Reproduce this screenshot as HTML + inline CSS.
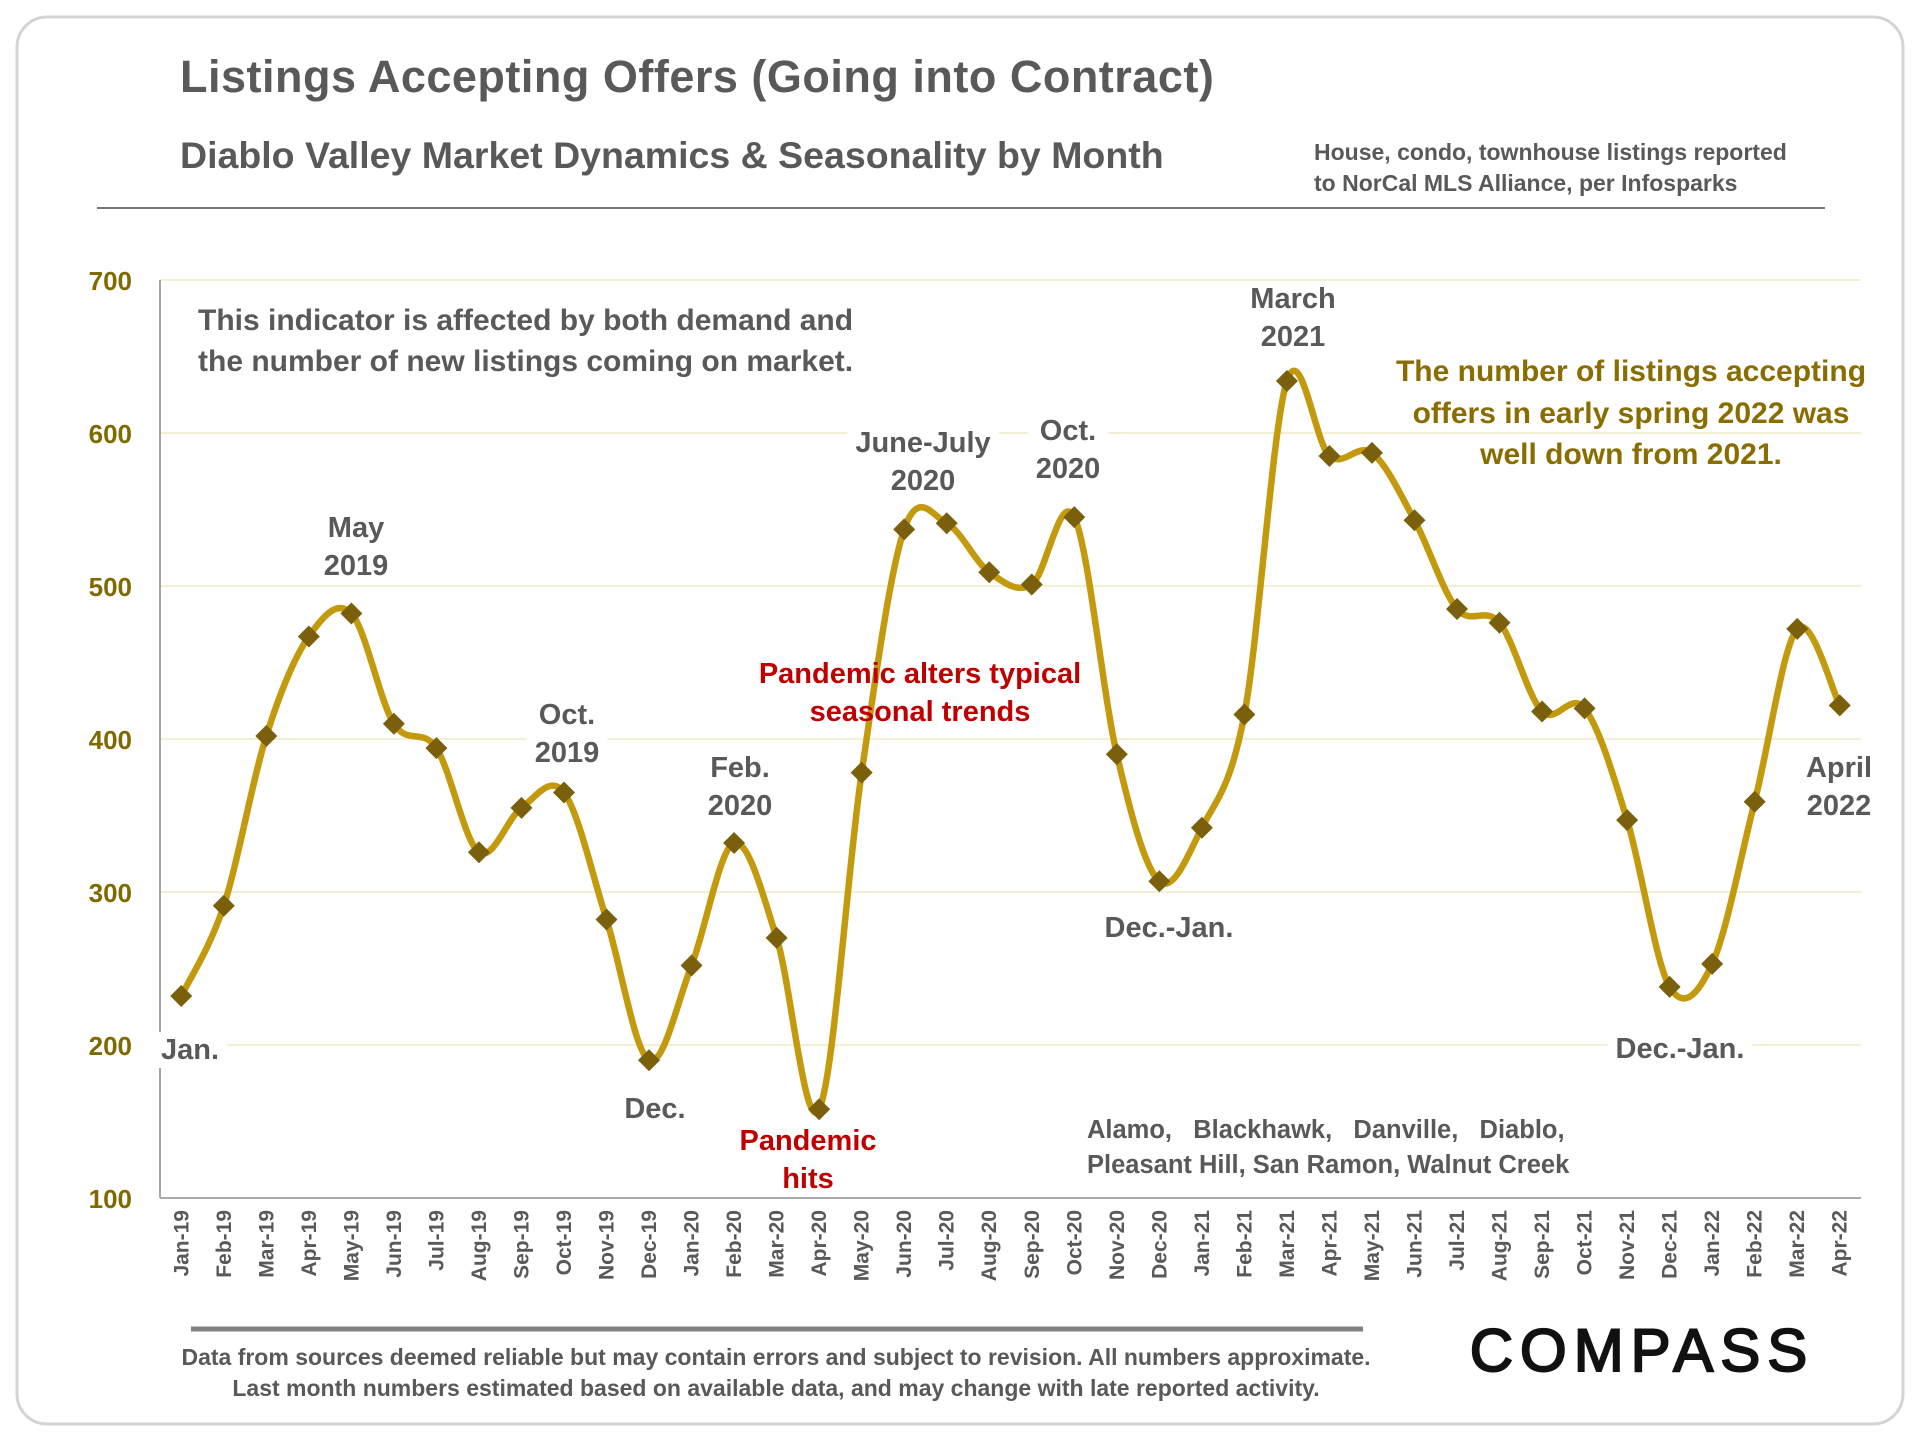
<!DOCTYPE html>
<html><head><meta charset="utf-8"><style>
html,body{margin:0;padding:0;background:#fff}
svg{display:block;font-family:"Liberation Sans",sans-serif}
</style></head><body>
<svg width="1920" height="1440" viewBox="0 0 1920 1440">
<rect x="17" y="17" width="1886" height="1407" rx="30" fill="#fff" stroke="#d4d4d4" stroke-width="3"/>
<text x="180" y="92" font-size="45" font-weight="bold" fill="#595959" letter-spacing="0.5">Listings Accepting Offers (Going into Contract)</text>
<text x="180" y="168" font-size="37.5" font-weight="bold" fill="#595959">Diablo Valley Market Dynamics &amp; Seasonality by Month</text>
<text x="1314" y="160" font-size="23" font-weight="bold" fill="#595959"><tspan x="1314">House, condo, townhouse listings reported</tspan><tspan x="1314" dy="31">to NorCal MLS Alliance, per Infosparks</tspan></text>
<line x1="97" y1="208" x2="1825" y2="208" stroke="#777" stroke-width="2"/>
<g id="grid"></g>
<g id="axes"></g>
<g id="annot" font-weight="bold" font-size="28" text-anchor="middle">
</g>
<g id="series"></g>
<g id="labels" font-weight="bold" font-size="28" text-anchor="middle"></g>
<line x1="191" y1="1329" x2="1363" y2="1329" stroke="#808080" stroke-width="5"/>
<text x="776" y="1365" font-size="23" font-weight="bold" fill="#595959" text-anchor="middle"><tspan x="776">Data from sources deemed reliable but may contain errors and subject to revision. All numbers approximate.</tspan><tspan x="776" dy="31">Last month numbers estimated based on available data, and may change with late reported activity.</tspan></text>
<text x="1642" y="1371" font-size="60" fill="#111" stroke="#111" stroke-width="2" text-anchor="middle" letter-spacing="7">COMPASS</text>
</svg>
<script>
const months=["Jan-19","Feb-19","Mar-19","Apr-19","May-19","Jun-19","Jul-19","Aug-19","Sep-19","Oct-19","Nov-19","Dec-19","Jan-20","Feb-20","Mar-20","Apr-20","May-20","Jun-20","Jul-20","Aug-20","Sep-20","Oct-20","Nov-20","Dec-20","Jan-21","Feb-21","Mar-21","Apr-21","May-21","Jun-21","Jul-21","Aug-21","Sep-21","Oct-21","Nov-21","Dec-21","Jan-22","Feb-22","Mar-22","Apr-22"];
const values=[232,291,402,467,482,410,394,326,355,365,282,190,252,332,270,158,378,537,541,509,501,545,390,307,342,416,634,585,587,543,485,476,418,420,347,238,253,359,472,422];
const yTicks=[100,200,300,400,500,600,700];
const NS="http://www.w3.org/2000/svg";
const L=160,R=1861,T=280,B=1198,yMin=100,yMax=700;
const xs=i=>L+(i+0.5)*(R-L)/months.length;
const ys=v=>B-(v-yMin)/(yMax-yMin)*(B-T);
function mk(tag,attrs,parent,txt){const e=document.createElementNS(NS,tag);for(const k in attrs)e.setAttribute(k,attrs[k]);if(txt!==undefined)e.textContent=txt;document.getElementById(parent).appendChild(e);return e;}
yTicks.forEach(t=>{
 if(t>yMin){const g=mk('line',{x1:L,x2:R,y1:ys(t),y2:ys(t),stroke:'#f3efd2','stroke-width':2},'grid');
 
 }
 const lb=mk('text',{x:132,y:ys(t)+10,'font-size':26,'font-weight':'bold',fill:'#7f6a00','text-anchor':'end'},'axes',String(t));
 
 
});
const ya=mk('line',{x1:L,x2:L,y1:T,y2:B,stroke:'#888','stroke-width':1.5},'axes');


const xa=mk('line',{x1:L,x2:R,y1:B,y2:B,stroke:'#aaa','stroke-width':2},'axes');


months.forEach((m,i)=>{
 const x=xs(i),y=1210;
 const t=mk('text',{x:x,y:y,'font-size':21,'font-weight':'bold',fill:'#595959','text-anchor':'end',transform:`rotate(-90 ${x} ${y})`,dy:7},'axes',m);
 
 
});
const P=values.map((v,i)=>[xs(i),ys(v)]);
let d=`M${P[0][0]},${P[0][1]}`;
for(let i=0;i<P.length-1;i++){
 const p0=P[Math.max(0,i-1)],p1=P[i],p2=P[i+1],p3=P[Math.min(P.length-1,i+2)];
 const k=1/6;
 d+=` C${p1[0]+(p2[0]-p0[0])*k},${p1[1]+(p2[1]-p0[1])*k} ${p2[0]-(p3[0]-p1[0])*k},${p2[1]-(p3[1]-p1[1])*k} ${p2[0]},${p2[1]}`;
}
const line=mk('path',{d:d,fill:'none',stroke:'#c39a0e','stroke-width':6.5,'stroke-linejoin':'round'},'series');


P.forEach((p,i)=>{
 const s=11;
 const m=mk('polygon',{points:`${p[0]},${p[1]-s} ${p[0]+s},${p[1]} ${p[0]},${p[1]+s} ${p[0]-s},${p[1]}`,fill:'#7a600c'},'series');
 
 
});
const annots=[
 ["indicator-note",[["This indicator is affected by both demand and",320],["the number of new listings coming on market.",361]],198,"#595959","start",false,30],
 ["label-may-2019",[["May",527],["2019",565]],356,"#595959","middle",true,29],
 ["label-oct-2019",[["Oct.",714],["2019",752]],567,"#595959","middle",true,29],
 ["label-feb-2020",[["Feb.",767],["2020",805]],740,"#595959","middle",true,29],
 ["label-jan",[["Jan.",1049]],190,"#595959","middle",true,29],
 ["label-dec",[["Dec.",1108]],655,"#595959","middle",true,29],
 ["label-pandemic-hits",[["Pandemic",1140],["hits",1178]],808,"#c00000","middle",true,29],
 ["label-pandemic-alters",[["Pandemic alters typical",673],["seasonal trends",711]],920,"#c00000","middle",true,29],
 ["label-june-july-2020",[["June-July",442],["2020",480]],923,"#595959","middle",true,29],
 ["label-oct-2020",[["Oct.",430],["2020",468]],1068,"#595959","middle",true,29],
 ["label-dec-jan-2021",[["Dec.-Jan.",927]],1169,"#595959","middle",true,29],
 ["label-march-2021",[["March",298],["2021",336]],1293,"#595959","middle",true,29],
 ["spring-2022-note",[["The number of listings accepting",371],["offers in early spring 2022 was",413],["well down from 2021.",454]],1631,"#8a6d00","middle",false,30],
 ["region-list",[["Alamo,   Blackhawk,   Danville,   Diablo,",1128],["Pleasant Hill, San Ramon, Walnut Creek",1163]],1087,"#595959","start",false,25.5],
 ["label-dec-jan-2022",[["Dec.-Jan.",1048]],1680,"#595959","middle",true,29],
 ["label-april-2022",[["April",767],["2022",805]],1839,"#595959","middle",false,29]
];
annots.forEach(a=>{
 const t=document.createElementNS(NS,'text');
 
 
 t.setAttribute('fill',a[3]);t.setAttribute('text-anchor',a[4]);
 t.setAttribute('font-size',a[6]);
 t.setAttribute('xml:space','preserve');t.style.whiteSpace='pre';
 a[1].forEach(([s,y])=>{const sp=document.createElementNS(NS,'tspan');sp.setAttribute('x',a[2]);sp.setAttribute('y',y+10);sp.textContent=s;t.appendChild(sp);});
 document.getElementById('labels').appendChild(t);
 if(a[5]){const bb=t.getBBox();const r=document.createElementNS(NS,'rect');
  r.setAttribute('x',bb.x-8);r.setAttribute('y',bb.y-2);r.setAttribute('width',bb.width+16);r.setAttribute('height',bb.height+4);r.setAttribute('fill','#fff');
  
  
  document.getElementById('annot').appendChild(r);}
});
</script>
</body></html>
